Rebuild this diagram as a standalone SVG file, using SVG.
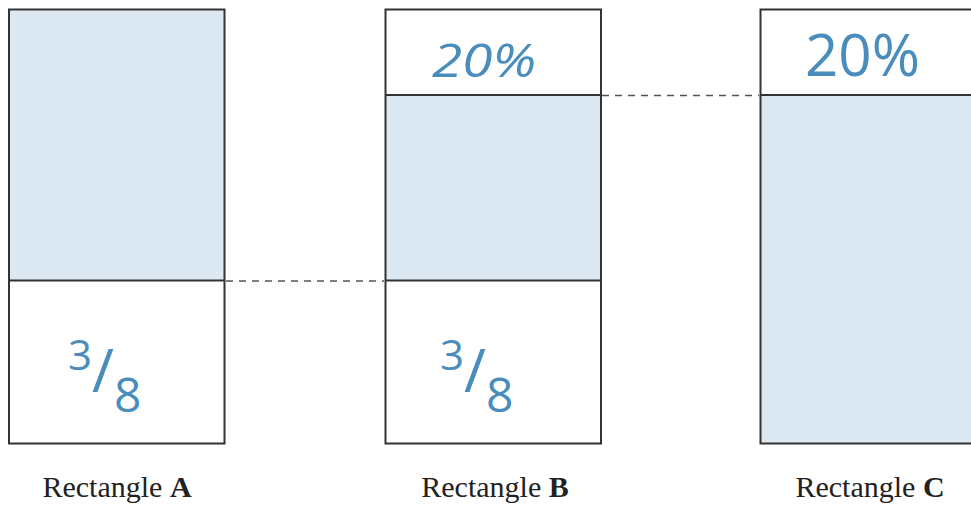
<svg xmlns="http://www.w3.org/2000/svg" width="971" height="506" viewBox="0 0 971 506">
  <style>
    .box { stroke: #333; stroke-width: 2; }
    .shade { fill: #dde9f2; }
    .plain { fill: #ffffff; }
    .div { stroke: #333; stroke-width: 2; fill: none; }
    .dash { stroke: #555; stroke-width: 1.6; stroke-dasharray: 7 6; fill: none; }
    .hand { fill: #4a8dbd; font-family: "Open Sans", "Liberation Sans", sans-serif; }
    .cap { fill: #222; font-family: "Liberation Serif", "Times New Roman", serif; font-size: 30px; text-anchor: middle; }
  </style>
  <rect width="971" height="506" fill="#ffffff"/>

  <g id="rect-a">
    <rect class="shade" x="9" y="9.5" width="215.5" height="271"/>
    <rect class="plain" x="9" y="280.5" width="215.5" height="163"/>
    <rect class="box" x="9" y="9.5" width="215.5" height="434" fill="none"/>
    <line class="div" x1="9" y1="280.5" x2="224.5" y2="280.5"/>
    <text class="hand" x="68" y="370" font-size="42">3<tspan dy="22" font-size="60">/</tspan><tspan dy="20" font-size="48">8</tspan></text>
  </g>

  <g id="rect-b">
    <rect class="plain" x="385.5" y="9.5" width="215.5" height="85.5"/>
    <rect class="shade" x="385.5" y="95" width="215.5" height="185.5"/>
    <rect class="plain" x="385.5" y="280.5" width="215.5" height="163"/>
    <rect class="box" x="385.5" y="9.5" width="215.5" height="434" fill="none"/>
    <line class="div" x1="385.5" y1="95" x2="601" y2="95"/>
    <line class="div" x1="385.5" y1="280.5" x2="601" y2="280.5"/>
    <text class="hand" x="432" y="77" font-size="46" font-style="italic" textLength="104" lengthAdjust="spacingAndGlyphs">20%</text>
    <text class="hand" x="440" y="370" font-size="42">3<tspan dy="22" font-size="60">/</tspan><tspan dy="20" font-size="48">8</tspan></text>
  </g>

  <g id="rect-c">
    <rect class="plain" x="760.5" y="9.5" width="230" height="85.5"/>
    <rect class="shade" x="760.5" y="95" width="230" height="348.5"/>
    <rect class="box" x="760.5" y="9.5" width="230" height="434" fill="none"/>
    <line class="div" x1="760.5" y1="95" x2="971" y2="95"/>
    <text class="hand" x="805" y="76" font-size="58" textLength="115" lengthAdjust="spacingAndGlyphs">20%</text>
  </g>

  <g id="connectors">
    <line class="dash" x1="226" y1="281" x2="384" y2="281"/>
    <line class="dash" x1="602" y1="95.5" x2="759" y2="95.5"/>
  </g>

  <g id="labels">
    <text class="cap" x="117" y="497">Rectangle <tspan font-weight="bold">A</tspan></text>
    <text class="cap" x="495" y="497">Rectangle <tspan font-weight="bold">B</tspan></text>
    <text class="cap" x="870" y="497">Rectangle <tspan font-weight="bold">C</tspan></text>
  </g>
</svg>
